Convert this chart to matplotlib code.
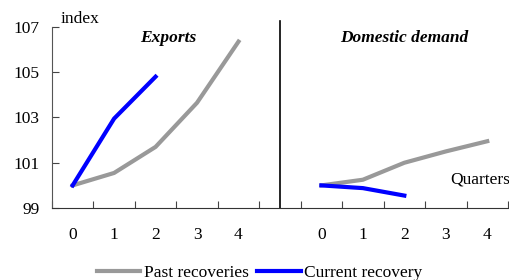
import numpy as np
import matplotlib.pyplot as plt

plt.rcParams['font.family'] = ['Liberation Serif', 'DejaVu Serif']

quarters = [0, 1, 2, 3, 4]
exports_past = [100.0, 100.55, 101.7, 103.65, 106.35]
exports_current = [100.0, 102.95, 104.8]
domestic_past = [100.0, 100.25, 101.0, 101.5, 101.95]
domestic_current = [100.0, 99.88, 99.55]

gray = '#999999'
blue = '#0000ff'
fs = 12.5

fig = plt.figure(figsize=(5.09, 2.8), dpi=100)
ax = fig.add_axes([0.102, 0.257, 0.896, 0.647])

x_exp = np.arange(len(quarters))
x_dom = x_exp + 6

ax.plot(x_exp, exports_past, color=gray, lw=3, label='Past recoveries')
ax.plot(x_exp[:len(exports_current)], exports_current, color=blue, lw=3, label='Current recovery')
ax.plot(x_dom, domestic_past, color=gray, lw=3)
ax.plot(x_dom[:len(domestic_current)], domestic_current, color=blue, lw=3)

ax.axvline(5, ymin=0, ymax=1.03, color='black', lw=1.2, clip_on=False)

ax.set_xlim(-0.5, 10.5)
ax.set_ylim(99, 107)
ax.set_yticks([99, 101, 103, 105, 107])
ax.set_xticks(np.arange(-0.5, 11, 1))
ax.set_xticklabels([])
ax.set_xticks(list(x_exp) + list(x_dom), minor=True)
ax.set_xticklabels([str(q) for q in quarters] * 2, minor=True)
ax.tick_params(axis='x', which='major', direction='in', length=5, color='#444444')
ax.tick_params(axis='x', which='minor', length=0, pad=14, labelsize=fs)
ax.tick_params(axis='y', direction='in', length=5, color='#444444', labelsize=fs, pad=9)

for s in ['top', 'right']:
    ax.spines[s].set_visible(False)
ax.spines['left'].set_color('#555555')
ax.spines['bottom'].set_color('#333333')

ax.text(-0.3, 107.0, 'index', fontsize=fs, va='bottom', ha='left')
ax.text(2.3, 106.5, 'Exports', fontsize=fs, fontweight='bold', style='italic', ha='center', va='center')
ax.text(8.0, 106.5, 'Domestic demand', fontsize=fs, fontweight='bold', style='italic', ha='center', va='center')
ax.text(9.1, 100.25, 'Quarters', fontsize=fs, ha='left', va='center', clip_on=False)

fig.legend(loc='lower center', ncol=2, frameon=False, fontsize=fs, handlelength=2.5,
           handletextpad=0.2, columnspacing=0.5, bbox_to_anchor=(0.51, -0.06))

fig.savefig('out.png', dpi=100)
